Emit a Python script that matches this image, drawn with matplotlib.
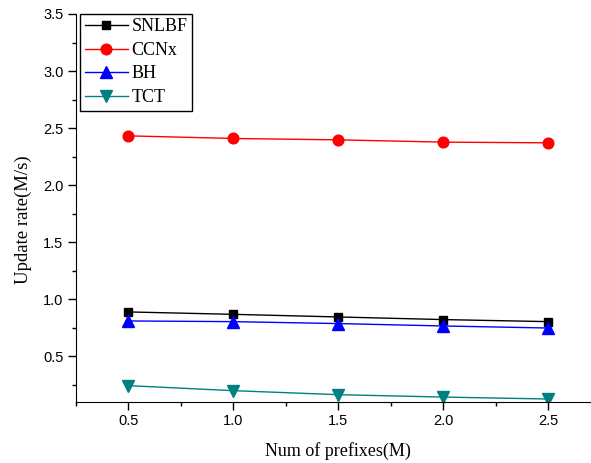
import matplotlib.pyplot as plt
from matplotlib.ticker import MultipleLocator

# prefixes (M) on the x axis
prefixes = [0.5, 1.0, 1.5, 2.0, 2.5]

# update rates (M/s)
snlbf = [0.889, 0.868, 0.845, 0.822, 0.804]
ccnx = [2.432, 2.409, 2.397, 2.377, 2.371]
bh = [0.810, 0.804, 0.787, 0.766, 0.748]
tct = [0.243, 0.199, 0.164, 0.143, 0.126]

series_names = ['SNLBF', 'CCNx', 'BH', 'TCT']

fig = plt.figure(figsize=(5.91, 4.63), dpi=100)
ax = fig.add_axes([0.1286, 0.1318, 0.888, 0.838])

ax.plot(prefixes, snlbf, color='black', marker='s', markersize=6, lw=1, label=series_names[0])
ax.plot(prefixes, ccnx, color='red', marker='o', markersize=7.7, lw=1, label=series_names[1])
ax.plot(prefixes, bh, color='blue', marker='^', markersize=8, lw=1, label=series_names[2])
ax.plot(prefixes, tct, color='#008080', marker='v', markersize=8, lw=1, label=series_names[3])

ax.set_xlim(0.25, 2.75)
ax.set_ylim(0.1, 3.5)
ax.xaxis.set_major_locator(MultipleLocator(0.5))
ax.xaxis.set_minor_locator(MultipleLocator(0.25))
ax.yaxis.set_major_locator(MultipleLocator(0.5))
ax.yaxis.set_minor_locator(MultipleLocator(0.25))
ax.tick_params(which='major', direction='out', length=5.5, width=1, labelsize=10.5)
ax.tick_params(which='minor', direction='out', length=3, width=1)
for lab in ax.get_xticklabels() + ax.get_yticklabels():
    lab.set_family('Liberation Sans')

ax.spines['top'].set_visible(False)
ax.spines['right'].set_visible(False)

ax.set_xlabel('Num of prefixes(M)', family='Liberation Serif', fontsize=13, labelpad=10)
ax.set_ylabel('Update rate(M/s)', family='Liberation Serif', fontsize=13.5, labelpad=8)
ax.yaxis.label.set_y(0.47)  # label sits a bit below the axis centre in the original

leg = ax.legend(loc='upper left', bbox_to_anchor=(0.008, 1.0), borderaxespad=0,
                fancybox=False, edgecolor='black', framealpha=1,
                prop={'family': 'Liberation Serif', 'size': 13},
                handlelength=2.4, handletextpad=0.2, labelspacing=0.36,
                borderpad=0.25)
leg.get_frame().set_linewidth(1)

fig.savefig('out.png', dpi=100)
